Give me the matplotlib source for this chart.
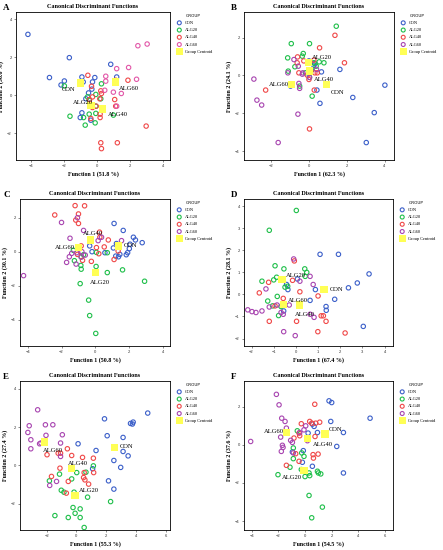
import numpy as np
import matplotlib
matplotlib.use('Agg')
import matplotlib.pyplot as plt

groups = ['CON', 'ALG20', 'ALG40', 'ALG60']

# panel A
a_con = [(-4.18, 3.21), (-1.68, 1.98), (-2.88, 0.93), (-1.98, 0.75), (-2.18, 0.54), (-0.92, 0.96),
         (-0.14, 0.93), (-0.84, 0.70), (0.82, 1.63), (1.18, 0.96), (-0.52, 0.12), (-0.32, 0.32),
         (-0.68, -0.19), (-0.92, -0.93), (-1.02, -1.18), (-0.38, -1.32), (-0.28, 0.70)]
a_alg20 = [(-1.98, 0.49), (-1.64, -1.11), (0.26, 0.60), (-0.58, -0.09), (-0.48, -0.26), (-0.08, 0.04),
           (0.22, -0.19), (-0.08, -0.58), (-0.48, -1.00), (-0.82, -1.18), (-0.08, -0.96),
           (-0.72, -1.58), (-0.12, -1.46), (0.98, -1.05)]
a_alg40 = [(-0.56, 1.05), (-0.34, 0.47), (-0.46, -0.23), (-0.28, -0.09), (0.22, 0.23), (0.26, 0.09),
           (0.16, -0.19), (-0.06, -0.58), (-0.28, -0.65), (0.18, -1.00), (0.18, -1.18), (-0.38, -1.23),
           (1.12, 0.79), (1.86, 0.79), (1.06, -0.23), (1.12, -0.58), (0.22, -2.51), (0.26, -2.82),
           (1.22, -2.51), (2.96, -1.63)]
a_alg60 = [(2.46, 2.61), (3.02, 2.70), (1.18, 1.40), (1.90, 1.46), (2.38, 0.84), (0.52, 1.00),
           (0.52, 0.74), (0.46, 0.26), (0.98, 0.16), (1.46, 0.09), (1.18, -0.58)]
a_cent = [(-1.02, 0.65), (-0.38, -0.53), (0.34, -0.72), (1.12, 0.70)]

# panel B
b_con = [(4.02, -0.51), (3.46, -1.96), (3.04, -3.54), (2.33, -1.16), (1.65, 0.32), (0.68, 0.19),
         (0.60, -1.47), (0.44, -0.77), (-0.95, -0.56), (0.28, 0.54), (0.33, 0.63), (0.02, 0.77),
         (0.05, 0.10)]
b_alg20 = [(1.46, 2.60), (-0.91, 1.68), (0.05, 1.68), (-1.10, 0.93), (-0.28, 1.16), (-0.33, 1.02),
           (-0.72, 0.46), (-1.07, 0.23), (0.28, 0.67), (0.56, 0.72), (0.81, 0.67), (0.40, 0.49),
           (0.16, 0.28), (-0.16, 0.14), (-0.47, -0.56), (0.19, -1.09), (0.05, -0.10)]
b_alg40 = [(1.39, 2.12), (0.58, 1.46), (-0.58, 0.98), (-0.25, 0.77), (0.28, 0.81), (-0.60, 0.67),
           (1.89, 0.67), (-0.51, 0.14), (-0.07, 0.02), (0.46, 0.14), (0.33, 0.14), (0.02, -0.21),
           (0.30, -0.77), (-2.26, -0.77), (0.05, -2.82)]
b_alg60 = [(-0.77, 0.84), (-1.09, 0.14), (-0.54, 0.49), (-0.30, 0.14), (-0.33, 0.07), (0.05, -0.10),
           (0.42, 0.32), (-0.51, -0.42), (-0.47, -0.68), (-2.88, -0.19), (-2.72, -1.30),
           (-2.47, -1.56), (-0.56, -2.04), (-1.60, -3.54)]
b_cent = [(0.93, -0.46), (-0.02, 0.67), (0.05, 0.23), (-0.91, -0.47)]

# panel C
c_con = [(1.10, 1.66), (1.64, 1.25), (2.24, 0.85), (2.36, 0.69), (2.76, 0.53), (2.04, 0.44),
         (2.00, 0.18), (1.24, 0.48), (1.06, 0.22), (-0.20, 0.00), (-0.34, 0.34), (0.56, -0.06),
         (1.20, -0.26), (1.36, -0.30), (1.82, -0.18), (1.90, -0.06), (1.44, -0.16)]
c_alg20 = [(-1.30, 0.08), (-1.24, -0.53), (-0.86, -0.81), (-0.84, -1.03), (-0.84, -0.30),
           (-0.70, -0.18), (0.06, -0.04), (0.70, -0.06), (0.04, -0.87), (0.70, -1.23), (1.60, -1.07),
           (2.90, -1.74), (-0.90, -1.88), (-0.40, -2.85), (-0.34, -3.76), (0.02, -4.81)]
c_alg40 = [(-2.40, 2.16), (-1.20, 2.71), (-1.00, 2.22), (-1.16, 1.86), (-1.00, 1.66), (-0.64, 2.70),
           (0.24, 1.15), (0.26, 0.85), (0.76, 0.69), (0.52, 0.28), (0.06, 0.24), (0.20, -0.12),
           (-0.76, -0.51), (-0.24, -0.57), (-1.06, -0.16), (-0.84, 0.34), (1.10, -0.46), (1.34, 0.04)]
c_alg60 = [(-4.24, -1.41), (-2.00, 1.72), (-1.06, 2.00), (-0.70, 1.25), (-1.50, 0.79), (0.16, 0.65),
           (0.36, 0.85), (1.54, 0.65), (-1.40, -0.10), (-1.54, -0.30), (-1.70, -0.63), (-1.10, -0.06),
           (-0.80, 0.00), (-1.14, -0.73), (-0.60, -0.20), (-0.84, -0.32)]
c_cent = [(1.36, 0.34), (0.00, -1.23), (-0.30, 0.69), (-1.00, 0.24)]

# panel D
d_con = [(1.09, 1.82), (1.92, 1.82), (3.30, 0.93), (2.77, 0.52), (2.37, 0.30), (1.75, -0.22),
         (0.88, 0.22), (0.64, -0.27), (-0.36, 0.22), (-0.42, 0.45), (0.07, 0.70), (1.36, -0.55),
         (1.37, -0.72), (-0.55, -0.75), (3.04, -1.45)]
d_alg20 = [(0.02, 3.81), (-1.20, 2.91), (-0.94, 1.30), (-0.54, 1.16), (0.40, 1.16), (0.49, 1.00),
           (0.42, 0.82), (-0.87, 0.78), (-1.00, 0.66), (-1.53, 0.60), (-0.49, 0.33), (-0.37, 0.37),
           (-1.27, -0.30), (-0.84, -0.09), (-1.05, -0.52), (-0.67, -0.55), (-0.78, -0.96)]
d_alg40 = [(-0.07, 1.52), (-0.15, 0.64), (0.18, 0.12), (-1.23, 0.55), (-1.65, 0.07), (-0.57, -0.18),
           (1.00, -0.07), (-0.94, -0.52), (-1.20, -1.22), (0.03, -1.22), (1.14, -0.97), (1.24, -0.97),
           (1.36, -1.22), (0.99, -1.69), (2.22, -1.75)]
d_alg60 = [(-0.10, 1.61), (0.18, 0.60), (0.64, 0.82), (0.78, 0.45), (-1.35, 0.25), (-2.17, -0.70),
           (-1.98, -0.78), (-1.80, -0.82), (-1.53, -0.75), (-1.20, -0.57), (-0.85, -0.48),
           (-0.67, -0.82), (-0.57, -0.90), (-0.30, -0.48), (0.64, -0.90), (0.82, -1.04),
           (-0.55, -1.69), (-0.03, -1.87)]
d_cent = [(1.27, 0.22), (-0.63, 0.67), (0.15, -0.48), (-0.55, -0.45)]

# panel E
e_con = [(4.80, 2.73), (3.77, 2.16), (3.64, 2.19), (3.82, 2.26), (1.89, 2.43), (2.07, 1.55),
         (3.14, 1.46), (3.14, 0.73), (3.48, 0.50), (2.52, 0.26), (2.98, -0.10), (2.16, -0.80),
         (2.52, -1.23), (0.11, 1.13), (1.32, 0.78), (1.09, -0.17)]
e_alg20 = [(1.14, -0.02), (0.02, -0.37), (0.64, -0.35), (-0.32, -0.70), (-1.14, -0.45), (-1.82, -0.80),
           (-1.02, -1.29), (-0.84, -1.39), (-0.16, -1.39), (0.75, -1.65), (2.30, -1.88),
           (-0.23, -2.19), (0.25, -2.26), (-0.09, -2.49), (0.25, -2.71), (-1.45, -2.61),
           (-0.55, -2.71), (0.52, -3.23)]
e_alg40 = [(-0.61, 0.87), (-1.98, 0.56), (-1.23, 0.64), (-1.07, 0.64), (-0.32, 0.52), (0.41, 0.42),
           (1.14, 0.38), (-1.11, -0.14), (-1.68, -0.57), (-0.55, -0.83), (0.52, -0.37), (1.16, -0.37),
           (0.48, -0.63), (0.57, -0.75), (0.82, -0.97), (-0.68, -1.44)]
e_alg60 = [(-2.61, 2.90), (-3.18, 2.07), (-3.27, 1.72), (-3.07, 1.34), (-3.07, 0.87), (-2.09, 2.12),
           (-1.59, 2.12), (-2.05, 1.57), (-0.95, 1.60), (-1.07, 1.17), (-2.39, 1.17), (-2.48, 1.13),
           (-1.07, 0.47), (-1.34, -0.83), (-1.80, -1.04)]
e_cent = [(2.57, 0.94), (-0.09, -1.58), (-0.32, -0.17), (-2.14, 1.22)]

# panel F
f_con = [(4.88, 1.39), (1.80, 2.30), (2.00, 2.21), (1.93, 1.22), (2.88, 0.64), (2.38, -0.09),
         (2.88, -1.48), (0.23, 0.61), (0.93, 0.64), (0.68, 0.96), (0.55, 1.08), (-0.13, -0.31),
         (-0.20, -0.92), (0.55, -1.13), (-0.95, -0.38)]
f_alg20 = [(-0.58, 0.73), (-0.88, -0.17), (-0.25, -0.43), (-0.08, -0.61), (-0.88, -0.73),
           (-1.13, -1.18), (-2.03, -1.57), (-0.28, -1.30), (0.30, -1.48), (0.35, -1.62), (0.00, -1.67),
           (0.93, -1.39), (1.00, -1.48), (1.18, -1.53), (0.30, -2.66), (1.30, -3.27), (0.50, -3.83)]
f_alg40 = [(0.73, 2.12), (-0.28, 1.10), (0.35, 1.22), (0.50, 1.13), (0.80, 1.13), (1.10, 1.18),
           (-0.83, 0.35), (-0.40, 0.47), (-0.45, 0.61), (0.75, 0.43), (-0.70, -0.47), (0.60, -0.52),
           (0.63, -0.70), (0.98, -0.49), (-0.45, -0.87), (-1.40, -1.08)]
f_alg60 = [(-2.15, 2.64), (-1.95, 2.09), (-1.75, 1.39), (-1.50, 1.22), (-1.40, 0.87), (-1.83, 0.40),
           (-1.08, 0.23), (-0.95, 0.12), (-4.08, 0.17), (-1.70, -0.03), (-1.65, -0.14), (-1.78, -0.35),
           (-0.88, -0.43), (-0.40, 0.64), (-0.08, 0.78), (0.05, 0.99), (0.18, 0.21)]
f_cent = [(1.50, 0.56), (-0.08, -1.36), (0.18, 0.31), (-1.38, 0.64)]

pct_f1 = ['51.8', '62.3', '50.8', '67.4', '55.3', '54.5']
pct_f2 = ['36.6', '24.1', '30.1', '28.1', '27.4', '37.6']

panels = [
    ('A', [a_con, a_alg20, a_alg40, a_alg60], a_cent),
    ('B', [b_con, b_alg20, b_alg40, b_alg60], b_cent),
    ('C', [c_con, c_alg20, c_alg40, c_alg60], c_cent),
    ('D', [d_con, d_alg20, d_alg40, d_alg60], d_cent),
    ('E', [e_con, e_alg20, e_alg40, e_alg60], e_cent),
    ('F', [f_con, f_alg20, f_alg40, f_alg60], f_cent),
]

# layout (pixels in a 443x550 figure): left, top, right, bottom of the axes box
W, H = 443.0, 550.0
boxes = {'A': (16, 12, 170, 160), 'B': (244, 12, 394, 160),
         'C': (20, 199, 170, 346), 'D': (244, 199, 393, 346),
         'E': (20, 381, 170, 530), 'F': (244, 381, 393, 530)}
lims = {'A': ((-4.9, 4.4), (-3.42, 4.39), [-4, -2, 0, 2, 4], [-2, 0, 2, 4]),
        'B': ((-3.4, 4.5), (-4.46, 3.35), [-2, 0, 2, 4], [-4, -2, 0, 2]),
        'C': ((-4.45, 4.4), (-5.55, 3.1), [-4, -2, 0, 2, 4], [-4, -2, 0, 2]),
        'D': ((-2.34, 4.38), (-2.34, 4.33), [-2, -1, 0, 1, 2, 3, 4], [-2, -1, 0, 1, 2, 3, 4]),
        'E': ((-3.8, 6.3), (-3.36, 4.4), [-2, 0, 2, 4, 6], [-2, 0, 2, 4]),
        'F': ((-4.58, 6.6), (-4.47, 3.34), [-4, -2, 0, 2, 4, 6], [-4, -2, 0, 2])}
# centroid label offsets in points, order CON, ALG20, ALG40, ALG60
offs = {'A': [(-13, -5), (-13, 2), (4, -4), (2, -5)],
        'B': [(3, -6), (3, 4), (3, -6), (-16, 0)],
        'C': [(4, 0), (-4, -7), (-5, 5), (-17, 0)],
        'D': [(4, 0), (3, 3), (-3, -7), (3, 3)],
        'E': [(4, 1), (3, 4), (-3, 4), (-1, -6)],
        'F': [(3, 3), (-16, -5), (4, -4), (-16, 1)]}

serif = ['Liberation Serif', 'DejaVu Serif']
sans = ['Liberation Sans', 'DejaVu Sans']
blue, green, red = '#3b5fc9', '#1fbf4a', '#f04848'

fig = plt.figure(figsize=(4.43, 5.5), dpi=100)
for letter, pts, cent in panels:
    l, t, r, b = boxes[letter]
    ax = fig.add_axes([l / W, 1 - b / H, (r - l) / W, (b - t) / H])
    purple = '#e257a8' if letter == 'A' else '#a845b0'
    cols = [blue, green, red, purple]
    for g, p, c in zip(groups, pts, cols):
        x, y = zip(*p)
        ax.scatter(x, y, s=10, facecolors='none', edgecolors=c, linewidths=0.8, label=g, zorder=3)
    cx, cy = zip(*cent)
    ax.scatter(cx, cy, s=28, marker='s', color='#ffff55', edgecolors='none',
               label='Group Centroid', zorder=4)
    for g, xx, yy, o in zip(groups, cx, cy, offs[letter]):
        ax.annotate(g, (xx, yy), xytext=o, textcoords='offset points', fontsize=4.7,
                    family=serif, zorder=5, va='center')
    xl, yl, xt, yt = lims[letter]
    ax.set_xlim(xl)
    ax.set_ylim(yl)
    ax.set_xticks(xt)
    ax.set_yticks(yt)
    ax.tick_params(labelsize=3, length=1.5, width=0.4, pad=1.5, colors='#333333')
    for lab in ax.get_xticklabels() + ax.get_yticklabels():
        lab.set_family(sans)
    for sp in ax.spines.values():
        sp.set_linewidth(0.6)
    i = 'ABCDEF'.index(letter)
    ax.set_xlabel('Function 1 (%s %%)' % pct_f1[i], fontsize=4.3, fontweight='bold',
                  family=serif, labelpad=2)
    ax.set_ylabel('Function 2 (%s %%)' % pct_f2[i], fontsize=4.3, fontweight='bold',
                  family=serif, labelpad=2)
    ax.set_title('Canonical Discriminant Functions', fontsize=4.4, fontweight='bold',
                 family=serif, pad=3)
    leg = ax.legend(loc='upper left', bbox_to_anchor=(1.02, 1.0), frameon=False,
                    title='GROUP', title_fontsize=3, handletextpad=0.2, borderaxespad=0,
                    labelspacing=0.7, markerscale=0.9, prop={'family': serif, 'size': 3.2})
    fig.text((l - 13) / W if letter in 'ABDF' else (l - 17) / W, 1 - (t - 4) / H, letter,
             fontsize=6.5, fontweight='bold', family=serif, va='center')

fig.savefig('out.png', dpi=100)
